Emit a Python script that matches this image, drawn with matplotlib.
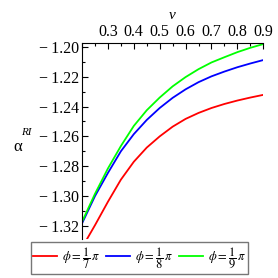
import numpy as np
import matplotlib.pyplot as plt
from matplotlib.ticker import MultipleLocator, FuncFormatter

plt.rcParams['font.family'] = ['Liberation Serif', 'DejaVu Serif']
plt.rcParams['mathtext.fontset'] = 'stix'

v = [0.20, 0.25, 0.30, 0.35, 0.40, 0.45, 0.50, 0.55, 0.60, 0.65, 0.70, 0.75, 0.80, 0.85, 0.90]
alpha_7 = [-1.3345, -1.3195, -1.3038, -1.2890, -1.2770, -1.2675, -1.2600, -1.2535,
           -1.2483, -1.2443, -1.2410, -1.2383, -1.2360, -1.2340, -1.2322]
alpha_8 = [-1.3183, -1.3000, -1.2845, -1.2700, -1.2585, -1.2490, -1.2410, -1.2342,
           -1.2285, -1.2237, -1.2198, -1.2166, -1.2137, -1.2112, -1.2089]
alpha_9 = [-1.3172, -1.2985, -1.2815, -1.2665, -1.2530, -1.2425, -1.2340, -1.2265,
           -1.2203, -1.2150, -1.2105, -1.2070, -1.2036, -1.2007, -1.1982]
labels = [r'$\phi = \dfrac{1}{7}\,\pi$', r'$\phi = \dfrac{1}{8}\,\pi$', r'$\phi = \dfrac{1}{9}\,\pi$']

fig = plt.figure(figsize=(2.78, 2.78), dpi=100)
ax = fig.add_axes([0.295, 0.1403, 0.652, 0.706])

ax.plot(v, alpha_7, color='#ff0000', lw=1.3, label=labels[0])
ax.plot(v, alpha_8, color='#0000ff', lw=1.3, label=labels[1])
ax.plot(v, alpha_9, color='#00ff00', lw=1.3, label=labels[2])

ax.set_xlim(0.2, 0.9)
ax.set_ylim(-1.3287, -1.1973)

ax.spines['right'].set_visible(False)
ax.spines['bottom'].set_visible(False)
ax.xaxis.tick_top()
ax.xaxis.set_major_locator(MultipleLocator(0.1))
ax.xaxis.set_minor_locator(MultipleLocator(0.05))
ax.yaxis.set_major_locator(MultipleLocator(0.02))
ax.yaxis.set_minor_locator(MultipleLocator(0.01))
ax.xaxis.set_major_formatter(FuncFormatter(lambda x, p: '' if x < 0.25 else f'{x:.1f}'))
ax.yaxis.set_major_formatter(FuncFormatter(lambda y, p: f'\u2212\u2009{abs(y):.2f}'))
ax.tick_params(which='both', direction='in', labelsize=11.5, pad=2, width=0.8)
ax.tick_params(which='major', length=4)
ax.tick_params(which='minor', length=2)

fig.text(0.62, 0.945, 'v', fontsize=11, style='italic', ha='center', va='center')
fig.text(0.063, 0.47, '\u03b1', fontsize=12, ha='center', va='center')
fig.text(0.093, 0.522, 'RI', fontsize=8, style='italic', ha='center', va='center')

fig.legend(loc='center', bbox_to_anchor=(0.502, 0.072), ncol=3, fontsize=9,
           frameon=True, fancybox=False, edgecolor='#777777', framealpha=1,
           handlelength=1.9, columnspacing=0.5, handletextpad=0.4,
           borderpad=0.2)

fig.savefig('out.png', dpi=100)
